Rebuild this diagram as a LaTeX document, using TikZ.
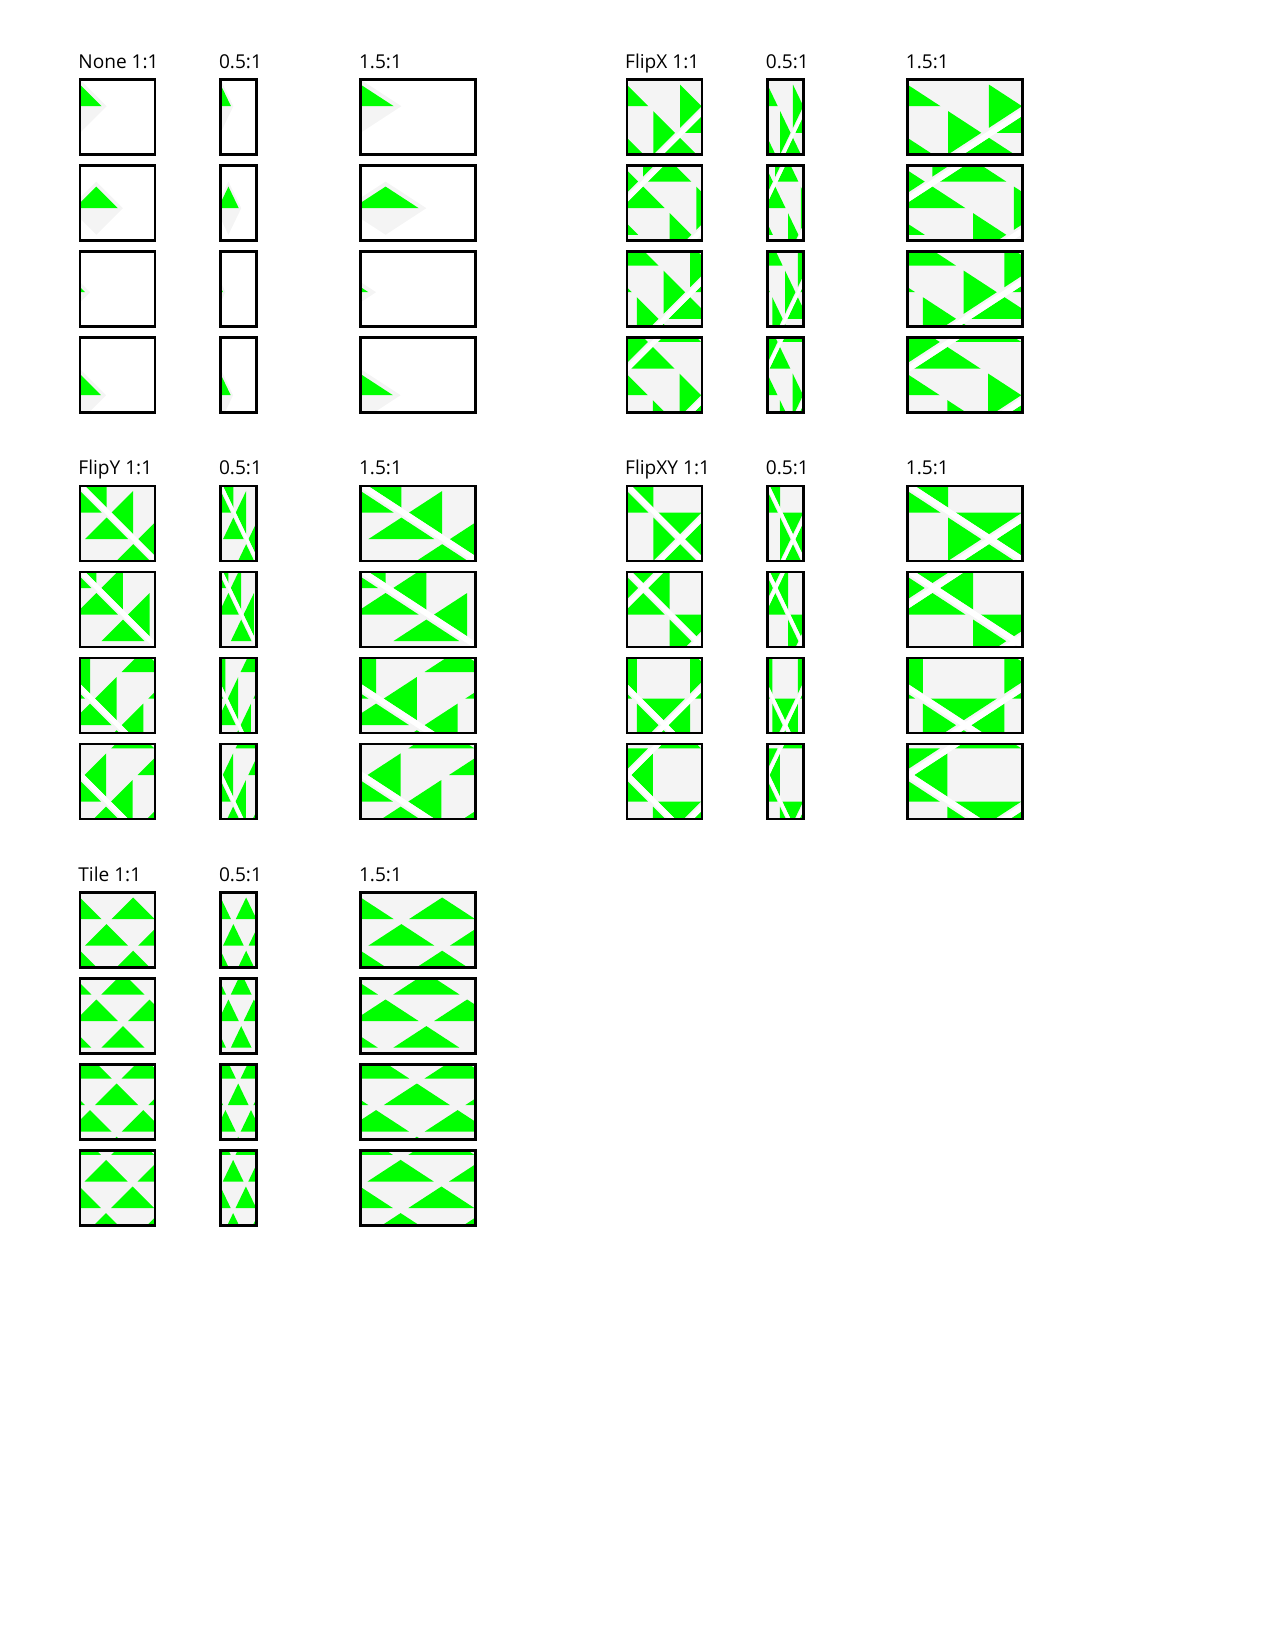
\documentclass[tikz,border=0pt]{standalone}
\usepackage{fontspec}
\setmainfont{Open Sans}
\usepackage{tikz}
\definecolor{texgreen}{HTML}{00FF00}
\definecolor{texgray}{HTML}{F4F4F4}
\tikzset{
    frame/.style={draw=black, line width=1.2pt}, % box round each sample
    texbg/.style={fill=texgray}, % background of the texture
    tri/.style={fill=texgreen}, % green triangle of the texture
    seam/.style={fill=white}, % white seam where flipped tiles meet
    caption/.style={anchor=base west, inner sep=0pt, font=\fontsize{9.2}{11}\selectfont},
}
\newcommand\swapu{\let\tmpc\ua \let\ua\ub \let\ub\tmpc}
\newcommand\swapv{\let\tmpc\va \let\va\vb \let\vb\tmpc}
% one tile of the texture: #1 i, #2 j, #3 wrap mode
\newcommand\tritile[3]{%
  \pgfmathsetmacro\ua{#1+0.094}\pgfmathsetmacro\ub{#1+0.906}%
  \pgfmathsetmacro\va{#2+0.094}\pgfmathsetmacro\vb{#2+0.906}%
  \ifodd\numexpr#1\relax \ifnum#3=1 \swapu\fi \ifnum#3=3 \swapu\fi\fi
  \ifodd\numexpr#2\relax \ifnum#3=2 \swapv\fi \ifnum#3=3 \swapv\fi\fi
  \fill[tri] (\ua,\va) -- (\ub,\va) -- (\ua,\vb) -- cycle;
}
% one sample box: #1 mode, #2 x, #3 y, #4 aspect, #5 tx, #6 ty
\newcommand\sample[6]{%
  \pgfmathsetmacro\bx{#2}\pgfmathsetmacro\by{#3}\pgfmathsetmacro\bw{75*#4}%
  \pgfmathsetmacro\ox{#2+#4*(#5)}\pgfmathsetmacro\oy{#3+#6}%
  \pgfmathsetmacro\ex{12.816*#4}%
  \begin{scope}
    \clip (\bx,\by) rectangle ++(\bw,75);
    \ifnum#1>0 \fill[texbg] (\bx,\by) rectangle ++(\bw,75);\fi
    \begin{scope}[shift={(\ox,\oy)}, x={(\ex pt,-12.816pt)}, y={(-\ex pt,-12.816pt)}]
      \ifnum#1=0
        \fill[texbg] (0,0) -- (1,0) -- (1,1) -- (0,1) -- cycle;
        \fill[tri] (0.094,0.094) -- (0.906,0.094) -- (0.094,0.906) -- cycle;
      \else
        \foreach \ti in {-2,...,4}{\foreach \tj in {-4,...,2}{\tritile{\ti}{\tj}{#1}}}
        \ifodd#1 % FlipX and FlipXY
          \foreach \k in {-1,...,2}
            \fill[seam] (2*\k-0.04,-6) -- (2*\k+0.09,-6) -- (2*\k+0.09,6) -- (2*\k-0.04,6) -- cycle;
        \fi
        \ifnum#1>1 \ifnum#1<4 % FlipY and FlipXY
          \foreach \k in {-2,...,1}
            \fill[seam] (-6,2*\k-0.09) -- (6,2*\k-0.09) -- (6,2*\k+0.04) -- (-6,2*\k+0.04) -- cycle;
        \fi\fi
      \fi
    \end{scope}
  \end{scope}
  \draw[frame] (\bx,\by) rectangle ++(\bw,75);
}

\begin{document}
\begin{tikzpicture}[x=0.4818pt, y=-0.4818pt]
  \useasboundingbox (0,0) rectangle (1275,1650);
  \foreach \m/\sx/\sy/\name in {0/80/79.6/None, 1/626.8/79.6/FlipX, 2/80/486/FlipY, 3/626.8/486/FlipXY, 4/80/892.5/Tile}{
    \node[caption] (lab-\m-a) at (\sx-2,\sy-11.3) {\name\ 1:1};
    \node[caption] (lab-\m-b) at (\sx+138.6,\sy-11.3) {0.5:1};
    \node[caption] (lab-\m-c) at (\sx+278.6,\sy-11.3) {1.5:1};
    \foreach \cx/\asp in {0/1, 140.6/0.48, 280.6/1.533}{
      \foreach \ry/\tx/\ty in {0/0/0, 86/16.3/16, 172/-16.5/14, 258/-0.5/31}{
        \sample{\m}{\sx+\cx}{\sy+\ry}{\asp}{\tx}{\ty}
      }
    }
  }
\end{tikzpicture}
\end{document}
